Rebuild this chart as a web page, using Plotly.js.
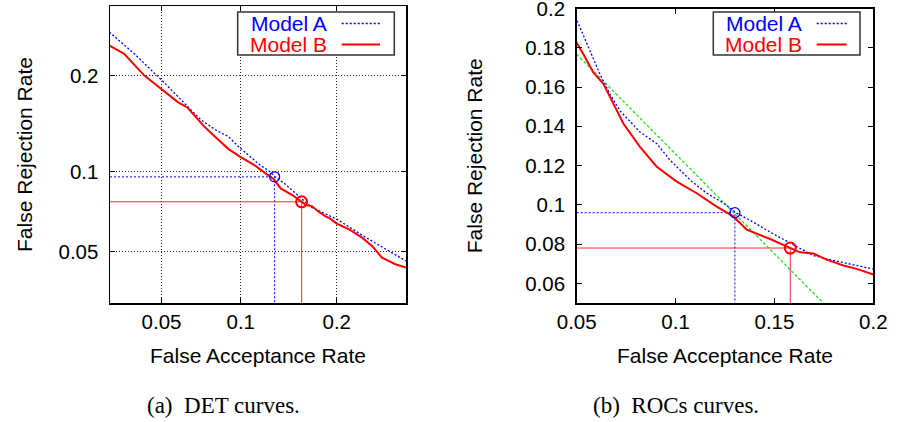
<!DOCTYPE html>
<html>
<head>
<meta charset="utf-8">
<script src="https://cdn.plot.ly/plotly-3.0.1.min.js"></script>
<style>html,body{margin:0;padding:0;background:#fff;}#chart{width:899px;height:422px;}</style>
</head>
<body>
<div id="chart"></div>
<script>
// ---- data (rates) ----
const farA = [0.0298, 0.0388, 0.0503, 0.0551, 0.0618, 0.0668, 0.0719, 0.0820, 0.0905, 0.0972, 0.1073, 0.1158, 0.1242, 0.1309, 0.1393, 0.1494, 0.1596, 0.1697, 0.1815, 0.2000, 0.2388, 0.2630, 0.3000];
const frrA = [0.2599, 0.2276, 0.1935, 0.1819, 0.1665, 0.1564, 0.1479, 0.1371, 0.1312, 0.1228, 0.1127, 0.1059, 0.1009, 0.0958, 0.0912, 0.0852, 0.0797, 0.0742, 0.0713, 0.0671, 0.0570, 0.0521, 0.0456];
const farB = [0.0298, 0.0347, 0.0424, 0.0500, 0.0534, 0.0584, 0.0635, 0.0685, 0.0736, 0.0820, 0.0905, 0.1006, 0.1107, 0.1208, 0.1292, 0.1360, 0.1478, 0.1579, 0.1629, 0.1697, 0.1764, 0.1849, 0.1916, 0.2000, 0.2158, 0.2340, 0.2482, 0.2629, 0.2833, 0.3000];
const frrB = [0.2404, 0.2288, 0.1998, 0.1825, 0.1767, 0.1674, 0.1616, 0.1515, 0.1414, 0.1295, 0.1194, 0.1118, 0.1059, 0.0991, 0.0941, 0.0873, 0.0826, 0.0781, 0.0758, 0.0752, 0.0721, 0.0691, 0.0674, 0.0645, 0.0613, 0.0568, 0.0526, 0.0471, 0.0442, 0.0428];
const opFar = [0.130, 0.158];   // operating points: Model A, Model B
const opFrr = [0.096, 0.078];
const costFar = [0.05, 0.1747];  // green cost line (ROC)
const costFrr = [0.1767, 0.05];
const detRange = [0.03, 0.3];
const rocRange = [0.05, 0.2];
const detTicks = [0.05, 0.1, 0.2];
const detTickText = ['0.05', '0.1', '0.2'];
const rocXTicks = [0.05, 0.1, 0.15, 0.2];
const rocXTickText = ['0.05', '0.1', '0.15', '0.2'];
const rocYTicks = [0.06, 0.08, 0.1, 0.12, 0.14, 0.16, 0.18, 0.2];
const rocYTickText = ['0.06', '0.08', '0.1', '0.12', '0.14', '0.16', '0.18', '0.2'];
const seriesNames = ['Model A', 'Model B'];
const captions = ['(a)  DET curves.', '(b)  ROCs curves.'];

// inverse standard normal CDF (Acklam)
function probit(p){
  const a=[-3.969683028665376e+01,2.209460984245205e+02,-2.759285104469687e+02,1.383577518672690e+02,-3.066479806614716e+01,2.506628277459239e+00];
  const b=[-5.447609879822406e+01,1.615858368580409e+02,-1.556989798598866e+02,6.680131188771972e+01,-1.328068155288572e+01];
  const c=[-7.784894002430293e-03,-3.223964580411365e-01,-2.400758277161838e+00,-2.549732539343734e+00,4.374664141464968e+00,2.938163982698783e+00];
  const d=[7.784695709041462e-03,3.224671290700398e-01,2.445134137142996e+00,3.754408661907416e+00];
  const pl=0.02425, ph=1-pl; let q,r;
  if(p<pl){q=Math.sqrt(-2*Math.log(p));return (((((c[0]*q+c[1])*q+c[2])*q+c[3])*q+c[4])*q+c[5])/((((d[0]*q+d[1])*q+d[2])*q+d[3])*q+1);}
  if(p<=ph){q=p-0.5;r=q*q;return (((((a[0]*r+a[1])*r+a[2])*r+a[3])*r+a[4])*r+a[5])*q/(((((b[0]*r+b[1])*r+b[2])*r+b[3])*r+b[4])*r+1);}
  q=Math.sqrt(-2*Math.log(1-p));return -(((((c[0]*q+c[1])*q+c[2])*q+c[3])*q+c[4])*q+c[5])/((((d[0]*q+d[1])*q+d[2])*q+d[3])*q+1);
}
const P = arr => arr.map(probit);

const BLUE = '#0000ff', RED = '#ff0000', GREEN = 'rgb(30,225,30)';
const dotA = '2px,2px';
const W = 899, H = 422;
const px = v => v / W, py = v => 1 - v / H;

function guide(i, lo, tf) {
  return { x: tf([lo, opFar[i], opFar[i]]), y: tf([opFrr[i], opFrr[i], lo]) };
}
const id = a => a;

function panel(xa, ya, tf, lo, extra) {
  const gA = guide(0, lo, tf), gB = guide(1, lo, tf);
  const t = [
    {x: gA.x, y: gA.y, mode: 'lines', line: {color: BLUE, width: 1, dash: dotA}},
    {x: gB.x, y: gB.y, mode: 'lines', line: {color: 'rgba(255,0,0,0.85)', width: 1}},
  ];
  if (extra) t.push(extra);
  t.push(
    {x: tf(farA), y: tf(frrA), name: seriesNames[0], mode: 'lines', line: {color: BLUE, width: 1.3, dash: dotA}},
    {x: tf(farB), y: tf(frrB), name: seriesNames[1], mode: 'lines', line: {color: RED, width: 2}},
    {x: tf([opFar[0]]), y: tf([opFrr[0]]), mode: 'markers', marker: {symbol: 'circle-open', size: 10, color: BLUE, line: {width: 1.3, color: BLUE}}},
    {x: tf([opFar[1]]), y: tf([opFrr[1]]), mode: 'markers', marker: {symbol: 'circle-open', size: 11, color: RED, line: {width: 2, color: RED}}}
  );
  t.forEach(o => { o.xaxis = xa; o.yaxis = ya; o.showlegend = false; o.hoverinfo = 'x+y'; });
  return t;
}

const data = [].concat(
  panel('x', 'y', P, detRange[0]),
  panel('x2', 'y2', id, rocRange[0],
    {x: costFar, y: costFrr, mode: 'lines', line: {color: GREEN, width: 1.3, dash: '3px,2px'}})
);

const FONT = 'Liberation Sans, Arial, Helvetica, sans-serif';
const axBase = {
  showline: true, linecolor: '#000', linewidth: 1.5, mirror: 'ticks',
  ticks: 'inside', ticklen: 5, tickcolor: '#000', tickwidth: 1,
  zeroline: false, tickfont: {family: FONT, size: 20.5, color: '#000'},
  tickmode: 'array', fixedrange: true, ticklabeloverflow: 'allow'
};
const ttl = (text, standoff) => ({text, standoff, font: {family: FONT, size: 21, color: '#000'}});
const grid = {showgrid: true, gridcolor: '#222', gridwidth: 1, griddash: '1px,2px'};

const layout = {
  width: W, height: H, margin: {l: 0, r: 0, t: 0, b: 0},
  paper_bgcolor: '#fff', plot_bgcolor: '#fff', showlegend: false,
  xaxis: Object.assign({}, axBase, grid, {domain: [px(110), px(406)], anchor: 'y', range: P(detRange),
    tickvals: P(detTicks), ticktext: detTickText, title: ttl('False Acceptance Rate', 16)}),
  yaxis: Object.assign({}, axBase, grid, {domain: [py(303), py(6)], anchor: 'x', range: P(detRange),
    ticklabelstandoff: 6,
    tickvals: P(detTicks), ticktext: detTickText, title: ttl('False Rejection Rate', 20)}),
  xaxis2: Object.assign({}, axBase, {showgrid: false, domain: [px(576.7), px(873.3)], anchor: 'y2', range: [rocRange[0], rocRange[1] + 1e-6],
    tickvals: rocXTicks, ticktext: rocXTickText, title: ttl('False Acceptance Rate', 16)}),
  yaxis2: Object.assign({}, axBase, {showgrid: false, domain: [py(303), py(8.5)], anchor: 'x2', range: [rocRange[0], rocRange[1] + 1e-6],
    ticklabelstandoff: 6,
    tickvals: rocYTicks, ticktext: rocYTickText, title: ttl('False Rejection Rate', 37)}),
  shapes: [], annotations: []
};

// legends (gnuplot style: text, then sample)
function legend(x0, x1, textRight, s0, s1) {
  layout.shapes.push({type: 'rect', xref: 'paper', yref: 'paper', x0: px(x0), x1: px(x1), y0: py(55), y1: py(12),
    line: {color: '#333', width: 1.5}, fillcolor: '#fff', layer: 'above'});
  const rows = [{y: 23.5, c: BLUE, dash: dotA, w: 1.3}, {y: 44.5, c: RED, dash: 'solid', w: 2}];
  rows.forEach((r, i) => {
    layout.annotations.push({xref: 'paper', yref: 'paper', x: px(textRight), y: py(r.y), xanchor: 'right', yanchor: 'middle',
      text: seriesNames[i], showarrow: false, font: {family: FONT, size: 21, color: r.c}});
    layout.shapes.push({type: 'line', xref: 'paper', yref: 'paper', x0: px(s0), x1: px(s1), y0: py(r.y), y1: py(r.y),
      line: {color: r.c, width: r.w, dash: r.dash}, layer: 'above'});
  });
}
legend(237.7, 394.3, 329, 341.7, 380);
legend(713.3, 860, 804, 816.7, 846.7);

// captions
[223, 676].forEach((cx, i) => layout.annotations.push({xref: 'paper', yref: 'paper', x: px(cx), y: py(405),
  xanchor: 'center', yanchor: 'middle', text: captions[i], showarrow: false,
  font: {family: 'Liberation Serif, Times New Roman, serif', size: 23, color: '#000'}}));

Plotly.newPlot('chart', data, layout, {staticPlot: true, displayModeBar: false});
</script>
</body>
</html>
